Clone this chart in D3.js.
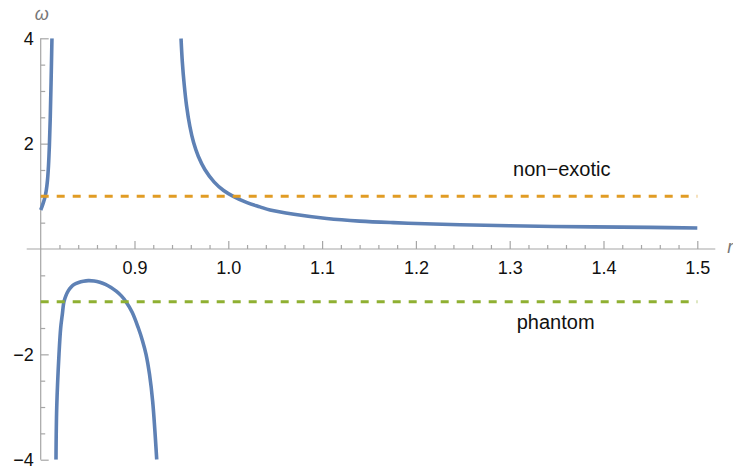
<!DOCTYPE html>
<html>
<head>
<meta charset="utf-8">
<script src="https://cdn.jsdelivr.net/npm/d3@7"></script>
<style>
  body { margin: 0; background: #fff; }
  svg { display: block; font-family: "Liberation Sans", Arial, sans-serif; }
  .axis line, .axis path { stroke: #a6a6a6; stroke-width: 1.2px; }
  .axis text { fill: #111; font-size: 18px; }
  .lbl { fill: #111; font-size: 20px; }
  .axlbl { fill: #777; font-size: 18px; font-style: italic; }
</style>
</head>
<body>
<svg id="chart" width="733" height="468"></svg>
<script>
// branch near r = 0.80 rising to the top
var rA = [0.8000, 0.8015, 0.8030, 0.8045, 0.8060, 0.8072, 0.8083, 0.8093, 0.8102, 0.8111, 0.8120];
var wA = [0.74, 0.81, 0.89, 0.98, 1.12, 1.30, 1.58, 1.98, 2.50, 3.20, 4.00];

// negative lobe
var rB = [0.8163, 0.8171, 0.8195, 0.8213, 0.8230, 0.8248, 0.8270, 0.8295, 0.8325, 0.8360, 0.8405, 0.8455, 0.8507, 0.8570, 0.8630, 0.8690, 0.8750, 0.8805, 0.8860, 0.8909, 0.8975, 0.9041, 0.9085, 0.9123, 0.9160, 0.9194, 0.9237];
var wB = [-4.0, -3.0, -2.0, -1.5, -1.25, -1.0, -0.88, -0.79, -0.72, -0.67, -0.635, -0.612, -0.60, -0.607, -0.63, -0.67, -0.73, -0.80, -0.89, -1.0, -1.2, -1.5, -1.74, -2.0, -2.38, -2.9, -4.0];

// right branch falling from the top
var rC = [0.9496, 0.9510, 0.9530, 0.9555, 0.9590, 0.9630, 0.9680, 0.9750, 0.9850, 0.9950, 1.0053, 1.0200, 1.0337, 1.0445, 1.0700, 1.1049, 1.1400, 1.1759, 1.2100, 1.2470, 1.3000, 1.3888, 1.4500, 1.5000];
var wC = [4.00, 3.55, 3.12, 2.72, 2.33, 2.02, 1.76, 1.51, 1.27, 1.11, 1.00, 0.88, 0.80, 0.74, 0.66, 0.58, 0.53, 0.50, 0.48, 0.46, 0.44, 0.42, 0.41, 0.40];

var refLines = [
  { w: 1, color: "#E19C24", text: "non\u2212exotic", tr: 1.3555, tw: 1.52 },
  { w: -1, color: "#8FB032", text: "phantom", tr: 1.349, tw: -1.38 }
];

var xMajor = [0.9, 1.0, 1.1, 1.2, 1.3, 1.4, 1.5];
var yMajor = [-4, -2, 2, 4];

var xMinor = d3.range(0.82, 1.5, 0.02).filter(function(v) { return Math.abs(v * 10 - Math.round(v * 10)) > 1e-6; });
var yMinor = d3.range(-3.5, 4, 0.5).filter(function(v) { return v % 2 !== 0; });

var svg = d3.select("#chart");

var x = d3.scaleLinear().domain([0.8, 1.5]).range([40.7, 697.3]);
var y = d3.scaleLinear().domain([-4, 4]).range([459.7, 38.3]);

svg.append("defs").append("clipPath").attr("id", "clip")
  .append("rect")
    .attr("x", x(0.8) - 5).attr("y", y(4))
    .attr("width", x(1.5) - x(0.8) + 10).attr("height", y(-4) - y(4));

// x axis: ticks pointing up
var gx = svg.append("g").attr("class", "axis").attr("transform", "translate(0," + y(0) + ")");
gx.append("line").attr("x1", x(0.8) - 14).attr("x2", x(1.5) + 18).attr("y1", 0).attr("y2", 0);
gx.append("g").call(d3.axisBottom(x).tickValues(xMinor).tickSizeInner(-4).tickSizeOuter(0).tickFormat(""))
  .select(".domain").remove();
gx.append("g").call(d3.axisBottom(x).tickValues(xMajor).tickSizeInner(-8).tickSizeOuter(0).tickPadding(12).tickFormat(d3.format(".1f")))
  .select(".domain").remove();

// y axis: ticks pointing right
var gy = svg.append("g").attr("class", "axis").attr("transform", "translate(" + x(0.8) + ",0)");
gy.append("line").attr("x1", 0).attr("x2", 0).attr("y1", y(4)).attr("y2", y(-4));
gy.append("g").call(d3.axisLeft(y).tickValues(yMinor).tickSizeInner(-4.5).tickSizeOuter(0).tickFormat(""))
  .select(".domain").remove();
gy.append("g").call(d3.axisLeft(y).tickValues(yMajor).tickSizeInner(-8).tickSizeOuter(0).tickPadding(7).tickFormat(d3.format("d")))
  .call(function(g) { g.select(".domain").remove(); g.selectAll("text").attr("dy", "0.33em"); });
svg.selectAll(".axis text").attr("font-family", null).attr("font-size", null);

// axis labels
svg.append("text").attr("class", "axlbl").attr("x", x(0.8) + 1).attr("y", 20).attr("text-anchor", "middle").text("\u03c9");
svg.append("text").attr("class", "axlbl").attr("x", x(1.5) + 30).attr("y", y(0) + 4).text("r");

var plot = svg.append("g").attr("clip-path", "url(#clip)");

var line = d3.line()
  .x(function(d) { return x(d[0]); })
  .y(function(d) { return y(d[1]); })
  .curve(d3.curveCatmullRom.alpha(0.5));

[[rA, wA], [rB, wB], [rC, wC]].forEach(function(b) {
  plot.append("path")
    .datum(d3.zip(b[0], b[1]))
    .attr("fill", "none")
    .attr("stroke", "#5E81B5")
    .attr("stroke-width", 3.6)
    .attr("stroke-linejoin", "round")
    .attr("d", line);
});

refLines.forEach(function(l) {
  plot.append("line")
    .attr("x1", x(0.8)).attr("x2", x(1.5))
    .attr("y1", y(l.w)).attr("y2", y(l.w))
    .attr("stroke", l.color)
    .attr("stroke-width", 3)
    .attr("stroke-dasharray", "8,8");
  svg.append("text").attr("class", "lbl")
    .attr("x", x(l.tr)).attr("y", y(l.tw))
    .attr("text-anchor", "middle")
    .attr("dy", "0.35em")
    .text(l.text);
});
</script>
</body>
</html>
